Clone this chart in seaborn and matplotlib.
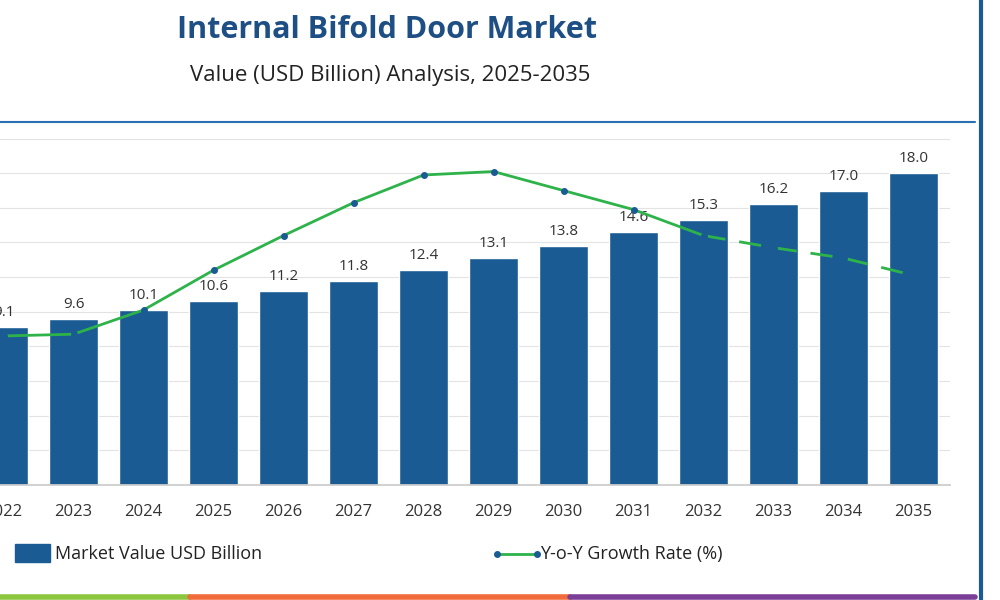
import matplotlib.pyplot as plt
import seaborn as sns
import pandas as pd

years = [str(y) for y in range(2022, 2036)]
market_value = [9.1, 9.6, 10.1, 10.6, 11.2, 11.8, 12.4, 13.1, 13.8, 14.6, 15.3, 16.2, 17.0, 18.0]
growth_rate = [4.3, 4.35, 5.05, 6.2, 7.2, 8.15, 8.95, 9.05, 8.5, 7.95, 7.2, 6.85, 6.55, 6.05]

sns.set_theme(style="white")
plt.rcParams['font.family'] = ['Open Sans', 'DejaVu Sans']

bar_color = "#1b5b94"
line_color = "#2db34a"

fig = plt.figure(figsize=(10, 6), dpi=100)
ax = fig.add_axes([0.0, 0.192, 0.95, 0.6])

df = pd.DataFrame({"year": years, "value": market_value})
sns.barplot(data=df, x="year", y="value", color=bar_color, width=0.71, ax=ax,
            saturation=1)
for i, v in enumerate(market_value):
    ax.text(i, v + 0.4, f"{v:.1f}", ha="center", va="bottom", fontsize=11, color="#333333")

ax.set_xlim(-0.05, 13.52)
ax.set_ylim(0, 20.8)
ax.set_yticks(range(0, 21, 2))
ax.yaxis.grid(True, color="#e3e3e3", linewidth=0.8)
ax.set_axisbelow(True)
ax.set_yticklabels([])
ax.tick_params(axis="y", length=0)
ax.tick_params(axis="x", length=0, labelsize=12, colors="#333333", pad=14)
ax.set_xlabel("")
ax.set_ylabel("")
for s in ["top", "right", "left"]:
    ax.spines[s].set_visible(False)
ax.spines["bottom"].set_color("#cccccc")

ax2 = ax.twinx()
ax2.set_ylim(0, 10.4)
ax2.plot(range(0, 11), growth_rate[:11], color=line_color, lw=2, marker="o", ms=4,
         markerfacecolor="#1b5b94", markeredgecolor="#1b5b94")
ax2.plot(range(10, 14), growth_rate[10:], color=line_color, lw=2, ls=(0, (8, 5)))
ax2.plot(range(10, 14), growth_rate[10:], ls="none", marker="o", ms=4, color="#1b5b94")
ax2.axis("off")

fig.text(0.387, 0.95, "Internal Bifold Door Market", ha="center", va="center",
         fontsize=22, fontweight="bold", color="#1d4f84")
fig.text(0.39, 0.875, "Value (USD Billion) Analysis, 2025-2035", ha="center", va="center",
         fontsize=16, color="#222222")
fig.add_artist(plt.Line2D([0, 0.975], [0.797, 0.797], color="#2a6fb3", lw=1.5))
fig.add_artist(plt.Line2D([0.981, 0.981], [0.0, 1.0], color="#1b5b94", lw=3))

# legend
fig.patches.append(plt.Rectangle((0.015, 0.063), 0.035, 0.03, color=bar_color,
                                 transform=fig.transFigure))
fig.text(0.055, 0.077, "Market Value USD Billion", va="center", fontsize=13, color="#222222")
fig.add_artist(plt.Line2D([0.497, 0.537], [0.077, 0.077], color=line_color, lw=2,
                          marker="o", markevery=[0, 1], ms=4, markerfacecolor="#1b5b94",
                          markeredgecolor="#1b5b94"))
fig.text(0.54, 0.077, "Y-o-Y Growth Rate (%)", va="center", fontsize=13, color="#222222")

# bottom colour strip
for x0, x1, c in [(0, 0.19, "#8cc63f"), (0.19, 0.57, "#f26b3a"), (0.57, 0.975, "#7b3f98")]:
    fig.add_artist(plt.Line2D([x0, x1], [0.005, 0.005], color=c, lw=4))

fig.savefig("out.png", dpi=100)
